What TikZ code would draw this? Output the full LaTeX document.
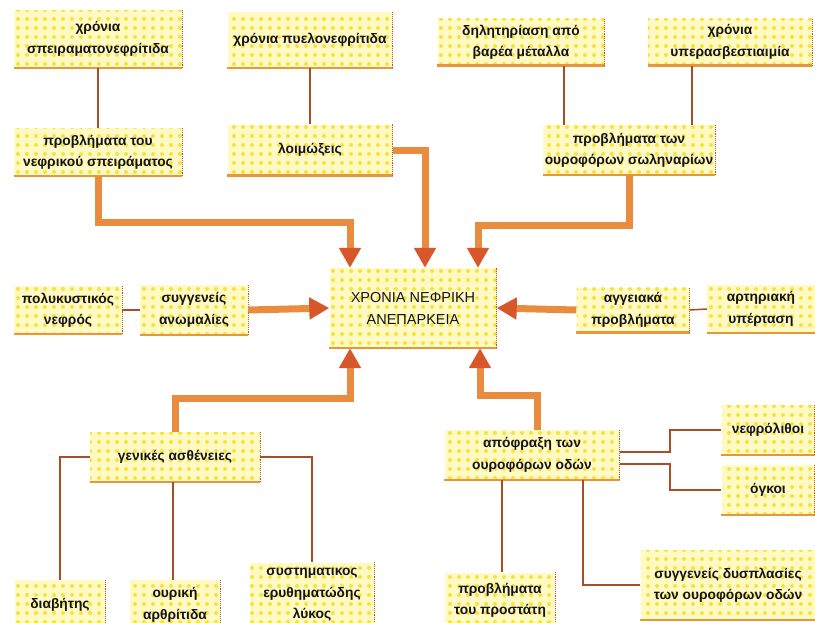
\documentclass[tikz,border=0pt]{standalone}
\usepackage{fontspec}
\setmainfont{Liberation Sans}
\usetikzlibrary{arrows.meta,patterns.meta,calc}

\definecolor{boxfill}{RGB}{255,249,196}
\definecolor{boxdots}{RGB}{248,226,60}
\definecolor{shadeor}{RGB}{232,150,60}
\definecolor{edgebr}{RGB}{170,90,40}
\definecolor{linkbr}{RGB}{168,78,38}
\definecolor{flowor}{RGB}{234,140,64}
\definecolor{tipred}{RGB}{214,88,42}

\tikzset{
  cause/.style={
    minimum width=#1, inner sep=0pt, align=center,
    font=\bfseries\fontsize{13.8}{21.5}\selectfont, text=black!92,
    preaction={fill=boxfill},
    pattern={Dots[distance=9pt,radius=2pt]}, pattern color=boxdots,
    append after command={
      (\tikzlastnode.south west) edge[bottomedge] (\tikzlastnode.south east)
      (\tikzlastnode.south east) edge[sideedge] (\tikzlastnode.north east)
    }
  },
  bottomedge/.style={draw=shadeor, line width=2.5pt, line cap=butt},
  sideedge/.style={draw=edgebr, line width=0.9pt, densely dotted},
  link/.style={draw=linkbr, line width=1.5pt},
  flow/.style={draw=flowor, line width=7pt,
    -{Triangle[width=21pt,length=20pt,color=tipred]}}
}

\begin{document}
\begin{tikzpicture}[x=1pt,y=-1pt]
\useasboundingbox (0,0) rectangle (815,622);
\clip (0,0) rectangle (815,622);

% top row
\node[cause=168pt, minimum height=58pt] (glom) at (98,39) {χρόνια\\σπειραματονεφρίτιδα};
\node[cause=165pt, minimum height=56pt] (pyel) at (310,40) {χρόνια πυελονεφρίτιδα};
\node[cause=167pt, minimum height=47pt] (metal) at (521,42) {δηλητηρίαση από\\βαρέα μέταλλα};
\node[cause=164pt, minimum height=47pt] (calc) at (730,42) {χρόνια\\υπερασβεστιαιμία};

% second row
\node[cause=168pt, minimum height=48pt] (glomp) at (98,152) {προβλήματα του\\νεφρικού σπειράματος};
\node[cause=165pt, minimum height=51pt] (infec) at (310,150) {λοιμώξεις};
\node[cause=172pt, minimum height=50pt] (tubul) at (629,150) {προβλήματα των\\ουροφόρων σωληναρίων};

% central row
\node[cause=167pt, minimum height=80pt, font=\fontsize{14.5}{22}\selectfont] (crf) at (413,308) {ΧΡΟΝΙΑ ΝΕΦΡΙΚΗ\\ΑΝΕΠΑΡΚΕΙΑ};
\node[cause=108pt, minimum height=48pt] (poly) at (68,310) {πολυκυστικός\\νεφρός};
\node[cause=108pt, minimum height=50pt] (cong) at (194,310) {συγγενείς\\ανωμαλίες};
\node[cause=113pt, minimum height=45pt] (vasc) at (633,310) {αγγειακά\\προβλήματα};
\node[cause=108pt, minimum height=48pt] (hyper) at (761,309) {αρτηριακή\\υπέρταση};

% lower row
\node[cause=170pt, minimum height=50pt] (gen) at (175,457) {γενικές ασθένειες};
\node[cause=175pt, minimum height=50pt] (obst) at (532,455) {απόφραξη των\\ουροφόρων οδών};
\node[cause=93pt, minimum height=50pt] (stone) at (768,430) {νεφρόλιθοι};
\node[cause=93pt, minimum height=50pt] (tumor) at (768,490) {όγκοι};

% bottom row
\node[cause=91pt, minimum height=50pt] (diab) at (60,605) {διαβήτης};
\node[cause=90pt, minimum height=50pt] (gout) at (175,605) {ουρική\\αρθρίτιδα};
\node[cause=125pt, minimum height=65pt] (lupus) at (312,595) {συστηματικος\\ερυθηματώδης\\λύκος};
\node[cause=110pt, minimum height=55pt] (prost) at (500,600) {προβλήματα\\του προστάτη};
\node[cause=175pt, minimum height=70pt] (dysp) at (728,585) {συγγενείς δυσπλασίες\\των ουροφόρων οδών};

% routing points
\coordinate (xm) at (564,0);
\coordinate (xh) at (692,0);
\coordinate (xg) at (173,0);
\coordinate (xp) at (502,0);
\coordinate (xd) at (583,0);
\coordinate (xs) at (670,0);
\coordinate (ja) at (350,222);
\coordinate (jb) at (425,0);
\coordinate (jc) at (478,225);
\coordinate (jd) at (350,398);
\coordinate (je) at (480,395);
\coordinate (xo) at (537,0);

% thin links
\draw[link] (glom.south) -- (glomp.north);
\draw[link] (pyel.south) -- (infec.north);
\draw[link] (metal.south -| xm) -- (tubul.north -| xm);
\draw[link] (calc.south -| xh) -- (tubul.north -| xh);
\draw[link] (poly.east) -- (cong.west);
\draw[link] (vasc.east) -- (hyper.west);
\draw[link] (gen.west) -| (diab.north);
\draw[link] (gen.south -| xg) -- (gout.north -| xg);
\draw[link] (gen.east) -| (lupus.north);
\draw[link] (obst.south -| xp) -- (prost.north -| xp);
\draw[link] (obst.south -| xd) |- (dysp.west);
\draw[link] ($(obst.east)+(0,-3)$) -| (xs |- stone.west) -- (stone.west);
\draw[link] ($(obst.east)+(0,9)$) -| (xs |- tumor.west) -- (tumor.west);

% thick arrows into the centre
\draw[flow] (glomp.south) |- (ja) -- (ja |- crf.north);
\draw[flow] (infec.east) -| (jb |- crf.north);
\draw[flow] (tubul.south) |- (jc) -- (jc |- crf.north);
\draw[flow] (cong.east) -- (crf.west);
\draw[flow] (vasc.west) -- (crf.east);
\draw[flow] (gen.north) |- (jd) -- (jd |- crf.south);
\draw[flow] (obst.north -| xo) |- (je) -- (je |- crf.south);
\end{tikzpicture}
\end{document}
